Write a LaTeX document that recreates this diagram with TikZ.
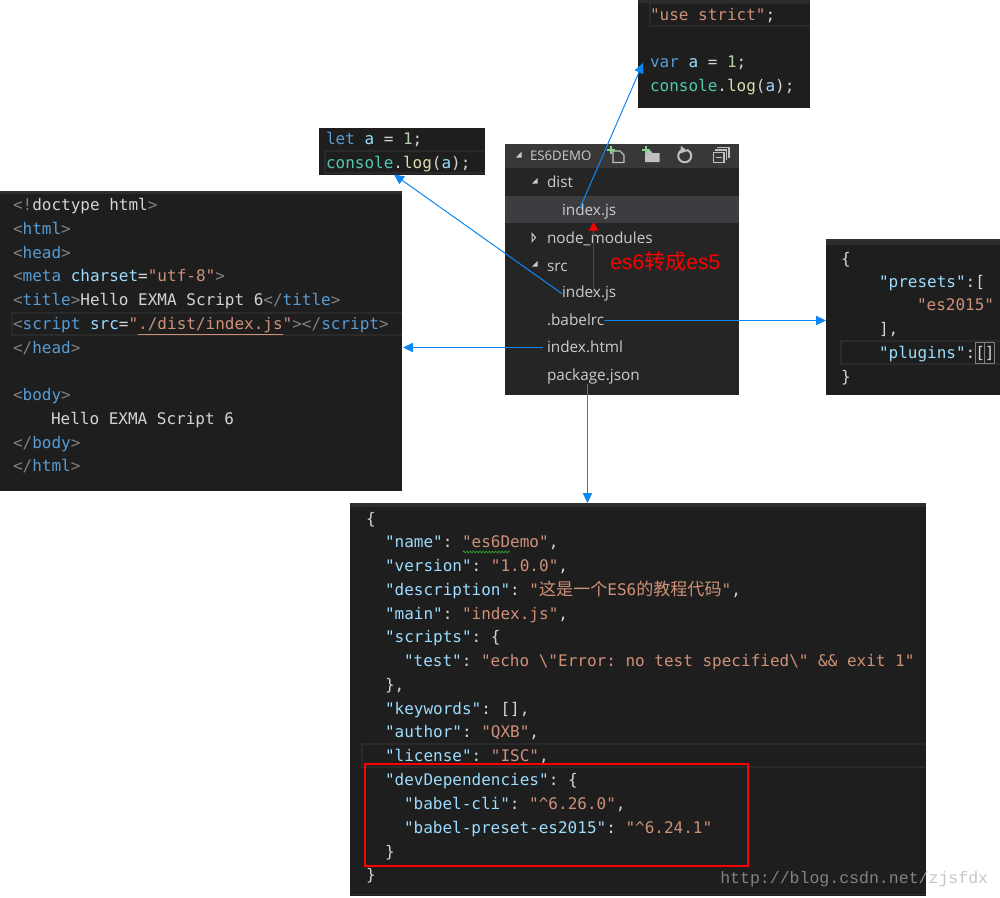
\documentclass[tikz,border=0pt]{standalone}
\usepackage{fontspec}
\usepackage{xcolor}
\setmonofont{DejaVu Sans Mono}
\newfontfamily\uifont{Open Sans}
\newfontfamily\cjkfont{Noto Sans CJK SC}
\newfontfamily\redfont{Liberation Sans}
\newfontfamily\markfont{Liberation Mono}
\usetikzlibrary{arrows.meta,fit,decorations.pathmorphing}

\definecolor{editorbg}{HTML}{1E1E1E}
\definecolor{tabbg}{HTML}{2D2D2D}
\definecolor{linebox}{HTML}{2A2A2A}
\definecolor{sidebg}{HTML}{252526}
\definecolor{sidehead}{HTML}{383838}
\definecolor{siderow}{HTML}{3C3C41}
\definecolor{sidetext}{HTML}{CCCCCC}
\definecolor{iconfill}{HTML}{C0C0C0}
\definecolor{icongreen}{HTML}{89D185}
\definecolor{vsblue}{HTML}{569CD6}
\definecolor{vsgrey}{HTML}{808080}
\definecolor{vsattr}{HTML}{9CDCFE}
\definecolor{vsstr}{HTML}{CE9178}
\definecolor{vstext}{HTML}{D4D4D4}
\definecolor{vsnum}{HTML}{B5CEA8}
\definecolor{vsteal}{HTML}{4EC9B0}
\definecolor{vsfunc}{HTML}{DCDCAA}
\definecolor{arrowblue}{HTML}{0E87F5}
\definecolor{squiggle}{HTML}{2E9A2E}
\definecolor{markgrey}{HTML}{ADADAD}

\newcommand{\kw}[1]{\textcolor{vsblue}{#1}}
\newcommand{\br}[1]{\textcolor{vsgrey}{#1}}
\newcommand{\at}[1]{\textcolor{vsattr}{#1}}
\newcommand{\st}[1]{\textcolor{vsstr}{#1}}
\newcommand{\nm}[1]{\textcolor{vsnum}{#1}}
\newcommand{\cs}[1]{\textcolor{vsteal}{#1}}
\newcommand{\fn}[1]{\textcolor{vsfunc}{#1}}

\tikzset{
  panel/.style={fill=editorbg,inner sep=0pt,outer sep=0pt},
  tabstrip/.style={fill=tabbg},
  currentline/.style={draw=linebox,line width=1.5pt},
  codetext/.style={anchor=base west,inner sep=0pt,outer sep=0pt,yshift=-0.5pt,text=vstext,font=\ttfamily\fontsize{12}{14}\selectfont},
  filetext/.style={anchor=base west,inner sep=0pt,outer sep=0pt,yshift=-0.5pt,text=sidetext,font=\uifont\fontsize{11.5}{14}\selectfont},
  bluearrow/.style={draw=arrowblue,line width=0.75pt,-{Triangle[length=7.5pt,width=7pt]}},
  redarrow/.style={draw=red,line width=0.6pt,-{Triangle[length=6.5pt,width=7pt]}},
}

\begin{document}
\begin{tikzpicture}[x=0.75pt,y=-0.75pt]
    \useasboundingbox (0,0) rectangle (1000,897);

    % Panels
    \node[panel,fit={(638,0) (810,108)}] (strictpanel) {};
    \node[panel,fit={(319,128) (485,175)}] (letpanel) {};
    \node[panel,fit={(0,191) (402,491)}] (htmlpanel) {};
    \node[panel,fill=sidebg,fit={(505,144) (739,395)}] (sidepanel) {};
    \node[panel,fit={(826,239) (1000,395)}] (presetspanel) {};
    \node[panel,fit={(350,503) (926,896)}] (pkgpanel) {};

    % Tab strips and current lines
    \fill[tabstrip] (638,0) rectangle (810,3);
    \fill[tabstrip] (0,191) rectangle (402,194);
    \fill[tabstrip] (826,239) rectangle (1000,245);
    \fill[tabstrip] (350,503) rectangle (926,507);
    \draw[tabstrip,draw=tabbg] (350,894) -- (926,894);
    \draw[currentline] (810,26) -- (650,26) -- (650,3) -- (810,3);
    \draw[currentline] (485,151) -- (325,151) -- (325,173) -- (485,173);
    \draw[currentline] (402,313) -- (12,313) -- (12,335) -- (402,335);
    \draw[currentline] (1000,341) -- (841,341) -- (841,364) -- (1000,364);
    \draw[currentline] (926,744) -- (362,744) -- (362,767) -- (926,767);

    % Explorer
    \fill[sidehead] (505,144) rectangle (739,168);
    \fill[siderow] (505,196) rectangle (739,223);
    \fill[sidetext] (516,157.5) -- (521.7,157.5) -- (521.7,151.7) -- cycle;
    \fill[sidetext] (532,183.5) -- (537.5,183.5) -- (537.5,178) -- cycle;
    \fill[sidetext] (532,266.7) -- (537.5,266.7) -- (537.5,261.2) -- cycle;
    \draw[sidetext,line width=0.75pt] (532,233.5) -- (535.5,237.5) -- (532,241.5) -- cycle;
    \node[filetext,font=\uifont\fontsize{9.9}{12}\selectfont] (sidetitle) at (530,160) {ES6DEMO};
    \node[filetext] (distdir) at (547,187) {dist};
    \node[filetext] (distindex) at (562,215) {index.js};
    \node[filetext] (nodemodules) at (547,243) {node\_modules};
    \node[filetext] (srcdir) at (547,271) {src};
    \node[filetext] (srcindex) at (562,297) {index.js};
    \node[filetext] (babelrc) at (547,325) {.babelrc};
    \node[filetext] (indexhtml) at (547,352) {index.html};
    \node[filetext] (packagejson) at (547,380) {package.json};

    % Explorer icons
    \draw[iconfill,line width=0.9pt] (613,151) -- (620,151) -- (624,155) -- (624,162.5) -- (613,162.5) -- cycle;
    \draw[icongreen,line width=1.5pt] (607,150) -- (615,150) (611,146) -- (611,154);
    \fill[iconfill] (645,151) -- (651,151) -- (652.5,153) -- (659.5,153) -- (659.5,162) -- (645,162) -- cycle;
    \draw[icongreen,line width=1.5pt] (642,150) -- (650,150) (646,146) -- (646,154);
    \draw[iconfill,line width=1.5pt] (681,150.5) arc[start angle=235,end angle=-70,radius=6.5];
    \fill[iconfill] (681,146) -- (687.5,151) -- (680,153.5) -- cycle;
    \draw[iconfill,line width=0.9pt] (717,147.5) -- (729,147.5) -- (729,158);
    \draw[iconfill,line width=0.9pt] (715,150) -- (726.5,150) -- (726.5,160);
    \draw[iconfill,line width=1.1pt] (713.5,152.5) rectangle (724,162.5);
    \draw[iconfill,line width=1.2pt] (716,157.5) -- (721.5,157.5);

    % Strict file
    \node[codetext] (strict1) at (650,20) {\st{"use strict"}{};};
    \node[codetext] (strict3) at (650,67) {\kw{var} \at{a} = \nm{1};};
    \node[codetext] (strict4) at (650,91) {\cs{console}.\fn{log}(\at{a});};

    % Let file
    \node[codetext] (let1) at (326,144) {\kw{let} \at{a} = \nm{1};};
    \node[codetext] (let2) at (326,168) {\cs{console}.\fn{log}(\at{a});};

    % Html file
    \node[codetext] (html1) at (13,210) {\br{<!}doctype html\br{>}};
    \node[codetext] (html2) at (13,233.75) {\br{<}\kw{html}\br{>}};
    \node[codetext] (html3) at (13,257.5) {\br{<}\kw{head}\br{>}};
    \node[codetext] (html4) at (13,281.25) {\br{<}\kw{meta} \at{charset}=\st{"utf-8"}\br{>}};
    \node[codetext] (html5) at (13,305) {\br{<}\kw{title}\br{>}Hello EXMA Script 6\br{</}\kw{title}\br{>}};
    \node[codetext] (html6) at (13,328.75) {\br{<}\kw{script} \at{src}=\st{"\underline{./dist/index.js}"}\br{></}\kw{script}\br{>}};
    \node[codetext] (html7) at (13,352.5) {\br{</}\kw{head}\br{>}};
    \node[codetext] (html9) at (13,400) {\br{<}\kw{body}\br{>}};
    \node[codetext] (html10) at (51,423.75) {Hello EXMA Script 6};
    \node[codetext] (html11) at (13,447.5) {\br{</}\kw{body}\br{>}};
    \node[codetext] (html12) at (13,471.25) {\br{</}\kw{html}\br{>}};

    % Presets file
    \node[codetext] (presets1) at (841,264) {\{};
    \node[codetext] (presets2) at (879,287) {\at{"presets"}:[};
    \node[codetext] (presets3) at (917,310) {\st{"es2015"}};
    \node[codetext] (presets4) at (879,334) {],};
    \node[codetext] (presets5) at (879,358) {\at{"plugins"}:[]};
    \node[codetext] (presets6) at (841,382) {\}};
    \draw[vsgrey,line width=0.75pt] (975,342) rectangle (984.5,363.5);
    \draw[vsgrey,line width=0.75pt] (984.5,342) rectangle (994,363.5);

    % Package file
    \node[codetext] (pkg1) at (366,524) {\{};
    \node[codetext] (pkg2) at (385,547.25) {\at{"name"}: \st{"es6Demo"},};
    \node[codetext] (pkg3) at (385,571) {\at{"version"}: \st{"1.0.0"},};
    \node[codetext] (pkg4) at (385,595.25) {\at{"description"}: \st{"{\cjkfont\fontsize{12.8}{14}\selectfont 这是一个}ES6{\cjkfont\fontsize{12.8}{14}\selectfont 的教程代码}"},};
    \node[codetext] (pkg5) at (385,619) {\at{"main"}: \st{"index.js"},};
    \node[codetext] (pkg6) at (385,642.25) {\at{"scripts"}: \{};
    \node[codetext] (pkg7) at (404,666) {\at{"test"}: \st{"echo \textbackslash"Error: no test specified\textbackslash" \&\& exit 1"}};
    \node[codetext] (pkg8) at (385,690.25) {\},};
    \node[codetext] (pkg9) at (385,714) {\at{"keywords"}: [],};
    \node[codetext] (pkg10) at (385,737.25) {\at{"author"}: \st{"QXB"},};
    \node[codetext] (pkg11) at (385,761) {\at{"license"}: \st{"ISC"},};
    \node[codetext] (pkg12) at (385,785.25) {\at{"devDependencies"}: \{};
    \node[codetext] (pkg13) at (404,809) {\at{"babel-cli"}: \st{"\textasciicircum 6.26.0"},};
    \node[codetext] (pkg14) at (404,832.75) {\at{"babel-preset-es2015"}: \st{"\textasciicircum 6.24.1"}};
    \node[codetext] (pkg15) at (385,856.5) {\}};
    \node[codetext] (pkg16) at (366,880.25) {\}};
    \draw[squiggle,line width=0.6pt,decorate,decoration={zigzag,segment length=2.4pt,amplitude=0.7pt}] (463,552) -- (510,552);

    % Red box
    \draw[red,line width=1.9pt] (365,764) rectangle (748,866);

    % Arrows
    \coordinate (strictin) at (643,63);
    \coordinate (letin) at (394,174.5);
    \coordinate (distout) at (580,208);
    \coordinate (presetsin) at (826,320.5);
    \coordinate (htmlin) at (403,347.5);
    \coordinate (pkgin) at (587.5,503);
    \coordinate (es5tip) at (593.5,222);
    \draw[bluearrow] (distout) -- (strictin);
    \draw[bluearrow] (srcindex.west) -- (letin);
    \draw[bluearrow] (presetsin -| babelrc.east) -- (presetsin);
    \draw[bluearrow] ([xshift=-3pt]htmlin -| indexhtml.west) -- (htmlin);
    \draw[bluearrow] (pkgin |- packagejson.south) -- (pkgin);
    \draw[redarrow] (es5tip |- srcindex.center) -- (es5tip);

    % Labels
    \node[anchor=base west,inner sep=0pt,text=red,font=\redfont\fontsize{15.8}{18}\selectfont] (es5label) at (610,269.5) {es6{\cjkfont 转成}es5};
    \node[anchor=base west,inner sep=0pt,text=markgrey,text opacity=0.7,font=\markfont\fontsize{12.4}{15}\selectfont] (watermark) at (720,883) {http://blog.csdn.net/zjsfdx};
\end{tikzpicture}
\end{document}
